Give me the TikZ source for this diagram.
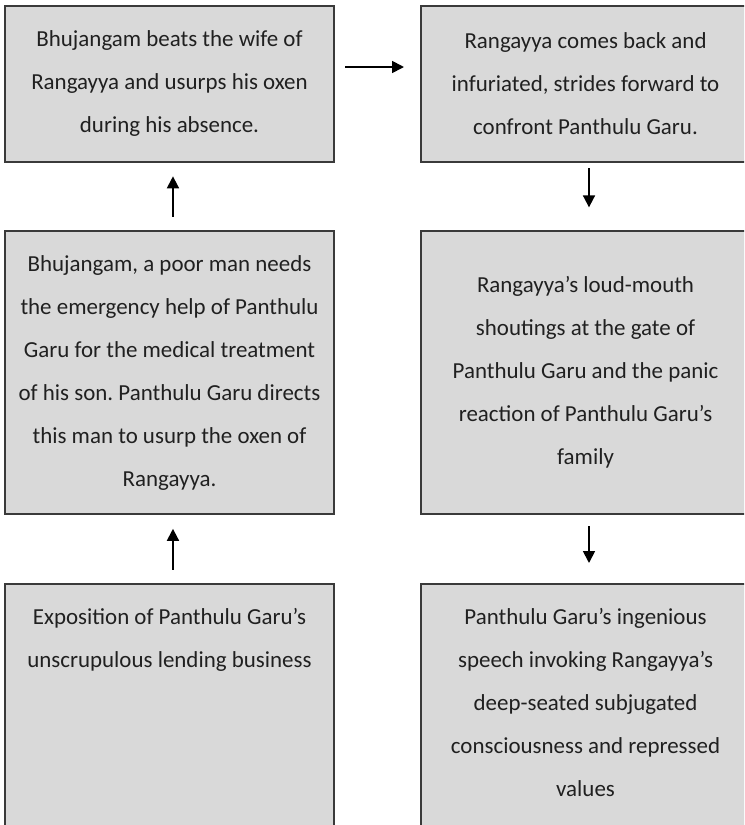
\documentclass[tikz,border=0pt]{standalone}
\usepackage{fontspec}
\setmainfont{Carlito}
\usetikzlibrary{positioning,arrows.meta}
\frenchspacing

\definecolor{boxgray}{HTML}{D9D9D9}
\definecolor{edgegray}{HTML}{3A3A3A}
\definecolor{inkgray}{HTML}{202020}

\tikzset{
    box/.style={draw=edgegray, fill=boxgray, line width=1.5pt,
        minimum width=246.75pt, inner sep=0pt},
    wide/.style={minimum width=258pt},
    txt/.style={align=center, inner sep=0pt, text=inkgray,
        font=\fontsize{17.2}{32.25}\selectfont},
    arr/.style={-{Triangle[length=9pt,width=9pt]}, line width=1.3pt, black}
}

\begin{document}
\begin{tikzpicture}[x=0.75pt, y=-0.75pt]
    \useasboundingbox (0,0) rectangle (744,825);
    \clip (0,0) rectangle (744,825);

    % colonna sinistra
    \node[box, minimum height=117pt] (beats) at (169.5,84) {};
    \node[box, minimum height=212.6pt] (help) at (169.5,372.75) {};
    \node[box, minimum height=237pt] (expo) at (169.5,742) {};

    % colonna destra (esce dal bordo a destra)
    \node[box, wide, minimum height=117pt] (confront) at (593,84) {};
    \node[box, wide, minimum height=212.6pt] (shout) at (593,372.75) {};
    \node[box, wide, minimum height=237pt] (speech) at (593,742) {};

    % testi
    \node[txt] (beats-txt) at (beats) {Bhujangam beats the wife of\\Rangayya and usurps his oxen\\during his absence.};
    \node[txt] (help-txt) at (help) {Bhujangam, a poor man needs\\the emergency help of Panthulu\\Garu for the medical treatment\\of his son. Panthulu Garu directs\\this man to usurp the oxen of\\Rangayya.};
    \node[txt, anchor=north] (expo-txt) at ([yshift=-19pt]expo.north) {Exposition of Panthulu Garu’s\\unscrupulous lending business};
    \node[txt] (confront-txt) at ([xshift=-5.6pt]confront.center) {Rangayya comes back and\\infuriated, strides forward to\\confront Panthulu Garu.};
    \node[txt] (shout-txt) at ([xshift=-5.6pt]shout.center) {Rangayya’s loud-mouth\\shoutings at the gate of\\Panthulu Garu and the panic\\reaction of Panthulu Garu’s\\family};
    \node[txt, anchor=north] (speech-txt) at ([xshift=-5.6pt, yshift=-19pt]speech.north) {Panthulu Garu’s ingenious\\speech invoking Rangayya’s\\deep-seated subjugated\\consciousness and repressed\\values};

    % frecce
    \draw[arr, shorten <=10pt, shorten >=10pt] ([xshift=2.6pt]help.north) -- ([xshift=2.6pt]beats.south);
    \draw[arr, shorten <=10pt, shorten >=10pt] ([xshift=2.6pt]expo.north) -- ([xshift=2.6pt]help.south);
    \draw[arr, shorten <=7.5pt, shorten >=12pt] ([yshift=12.75pt]beats.east) -- ([yshift=12.75pt]confront.west);
    \draw[arr, shorten <=4pt, shorten >=17pt] ([xshift=-3pt]confront.south) -- ([xshift=-3pt]shout.north);
    \draw[arr, shorten <=8pt, shorten >=15pt] ([xshift=-3pt]shout.south) -- ([xshift=-3pt]speech.north);
\end{tikzpicture}
\end{document}
